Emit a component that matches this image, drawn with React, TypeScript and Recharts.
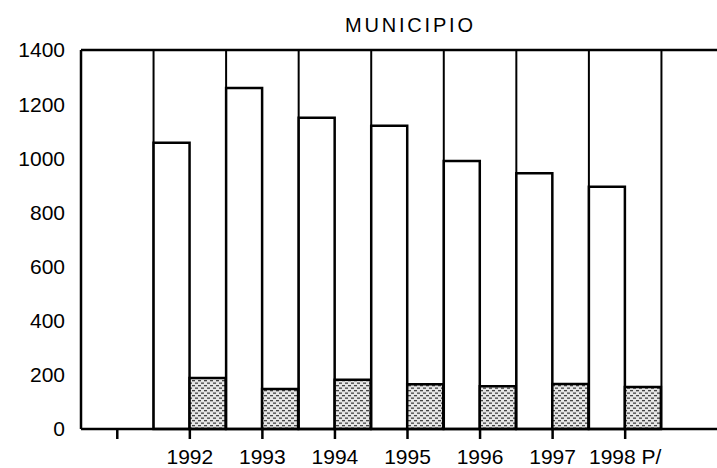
import React from "react"
import { BarChart, Bar, XAxis, YAxis, CartesianGrid, ReferenceLine } from "recharts"

// categories (first and last are blank slots in the original layout)
const years = ["", "1992", "1993", "1994", "1995", "1996", "1997", "1998 P/", " "]
const totalValues = [null, 1057, 1260, 1150, 1120, 990, 945, 895, null]
const shadedValues = [null, 188, 148, 182, 165, 158, 166, 155, null]
const yTicks = [0, 200, 400, 600, 800, 1000, 1200, 1400]

const data = years.map((year, i) => ({
  year,
  total: totalValues[i],
  shaded: shadedValues[i],
}))

const font = '"Liberation Sans", Arial, Helvetica, sans-serif'

// grid lines on the category boundaries, not the centres
const boundaries = (props: any) => {
  const { offset } = props
  const step = offset.width / years.length
  return years.slice(1).map((_, i) => offset.left + (i + 1) * step)
}

export default function App() {
  return (
    <div style={{ position: "absolute", left: 0, top: 0, width: 717, height: 468, overflow: "hidden", background: "#fff" }}>
      <svg width={0} height={0} style={{ position: "absolute" }}>
        <defs>
          <pattern id="dots" width={6} height={5} patternUnits="userSpaceOnUse">
            <rect width={6} height={5} fill="#e6e6e6" />
            <rect x={0} y={0} width={3} height={1.3} fill="#444" />
            <rect x={3} y={2.5} width={3} height={1.3} fill="#444" />
          </pattern>
        </defs>
      </svg>
      <svg width={717} height={45} style={{ position: "absolute", left: 0, top: 0 }}>
        <text x={345} y={32} fontFamily={font} fontSize={20} letterSpacing={2.8} fill="#000">
          MUNICIPIO
        </text>
      </svg>
      <BarChart
        width={734}
        height={468}
        data={data}
        margin={{ top: 50, right: 0, bottom: 0, left: 0 }}
        barCategoryGap={0}
        barGap={0}
      >
        <CartesianGrid horizontal={false} stroke="#000" strokeWidth={2} verticalCoordinatesGenerator={boundaries} />
        <XAxis
          dataKey="year"
          ticks={years.slice(0, 8)}
          height={39}
          tickSize={10}
          tickMargin={10}
          stroke="#000"
          strokeWidth={2.5}
          tick={{ fill: "#000", fontSize: 21, fontFamily: font }}
          interval={0}
        />
        <YAxis
          width={81}
          domain={[0, 1400]}
          ticks={yTicks}
          tickLine={false}
          tickSize={6}
          tickMargin={10}
          stroke="#000"
          strokeWidth={2.5}
          tick={{ fill: "#000", fontSize: 21, fontFamily: font }}
        />
        <ReferenceLine y={1400} stroke="#000" strokeWidth={2.5} />
        <Bar dataKey="total" fill="#fff" stroke="#000" strokeWidth={2.5} isAnimationActive={false} />
        <Bar dataKey="shaded" fill="url(#dots)" stroke="#000" strokeWidth={2.5} isAnimationActive={false} />
      </BarChart>
    </div>
  )
}
